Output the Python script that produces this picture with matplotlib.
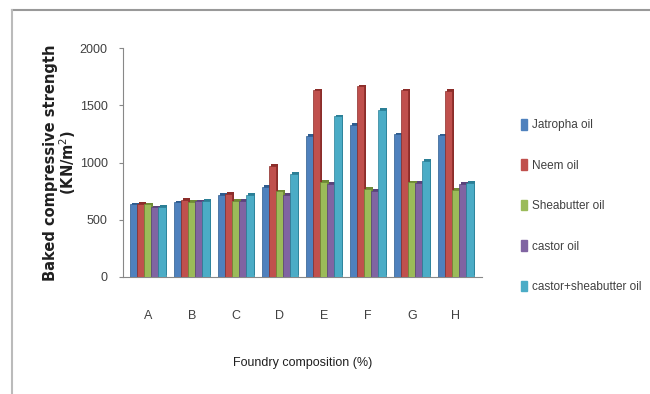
import matplotlib
matplotlib.use("Agg")
import matplotlib.pyplot as plt
import matplotlib.patheffects as pe
import numpy as np
from matplotlib.lines import Line2D

categories = ["A", "B", "C", "D", "E", "F", "G", "H"]
series_names = ["Jatropha oil", "Neem oil", "Sheabutter oil", "castor oil", "castor+sheabutter oil"]
jatropha = [635, 652, 719, 789, 1232, 1328, 1247, 1238]
neem = [638, 673, 725, 971, 1630, 1667, 1630, 1624]
sheabutter = [636, 658, 667, 748, 832, 768, 826, 760]
castor = [609, 661, 667, 719, 812, 754, 820, 812]
castor_shea = [615, 667, 719, 899, 1404, 1459, 1015, 824]
yticks = [0, 500, 1000, 1500, 2000]

colors = ["#4F81BD", "#C0504D", "#9BBB59", "#8064A2", "#4BACC6"]
dark = ["#2E5C8F", "#8C2D2A", "#6E8A35", "#5A437A", "#2B7F96"]

plt.rcParams['font.family'] = ['Liberation Sans', 'DejaVu Sans']
fig = plt.figure(figsize=(6.5, 3.94), dpi=100)
ax = fig.add_axes([0.189, 0.297, 0.553, 0.581])

data = [jatropha, neem, sheabutter, castor, castor_shea]
x = np.arange(len(categories))
w = 0.16
for i, (vals, c, d, name) in enumerate(zip(data, colors, dark, series_names)):
    bars = ax.bar(x + (i - 2) * w, vals, width=w, color=c, edgecolor=d, linewidth=0.5,
                  label=name, zorder=3)
    for b in bars:
        b.set_path_effects([pe.SimplePatchShadow(offset=(1.2, 1.2), shadow_rgbFace=d, alpha=1.0),
                            pe.Normal()])

ax.set_xlim(-0.57, 7.6)
ax.set_ylim(0, 2000)
ax.set_yticks(yticks)
ax.set_yticklabels([str(v) for v in yticks], fontsize=9, color="#404040")
ax.set_xticks(x)
ax.set_xticklabels(categories, fontsize=9, color="#404040")
ax.tick_params(axis='x', length=0, pad=24)
ax.tick_params(axis='y', length=3, color="#888888", pad=8)
for s in ["top", "right"]:
    ax.spines[s].set_visible(False)
ax.spines["left"].set_color("#888888")
ax.spines["bottom"].set_color("#888888")

ax.set_ylabel("Baked compressive strength\n(KN/m$^2$)", fontsize=10.5, fontweight="bold",
              family="DejaVu Sans", color="#202020", labelpad=1, linespacing=0.95)
ax.set_xlabel("Foundry composition (%)", fontsize=9, color="#202020", labelpad=25)

handles = [plt.Rectangle((0, 0), 1, 1, color=c) for c in colors]
fig.legend(handles, series_names, loc="upper left", bbox_to_anchor=(0.785, 0.725),
           frameon=False, fontsize=8.5, labelspacing=2.38, handlelength=0.5,
           handleheight=1.0, handletextpad=0.4, labelcolor="#404040")

# outer frame lines (top and left)
fig.add_artist(Line2D([12/650, 1.0], [1 - 10/394, 1 - 10/394], color="#999999", lw=1.5))
fig.add_artist(Line2D([12/650, 12/650], [0, 1 - 10/394], color="#bbbbbb", lw=1.5))

fig.savefig("out.png", dpi=100)
